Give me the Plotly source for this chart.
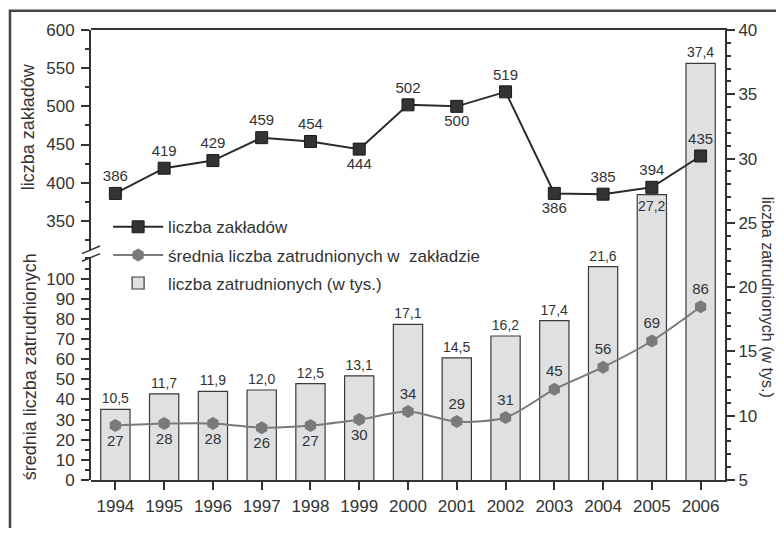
import plotly.graph_objects as go

years = [1994, 1995, 1996, 1997, 1998, 1999, 2000, 2001, 2002, 2003, 2004, 2005, 2006]
liczba_zakladow = [386, 419, 429, 459, 454, 444, 502, 500, 519, 386, 385, 394, 435]
srednia_zatr = [27, 28, 28, 26, 27, 30, 34, 29, 31, 45, 56, 69, 86]
liczba_zatr_tys = [10.5, 11.7, 11.9, 12.0, 12.5, 13.1, 17.1, 14.5, 16.2, 17.4, 21.6, 27.2, 37.4]

pos_zakl = ["top center", "top center", "top center", "top center", "top center", "bottom center",
            "top center", "bottom center", "top center", "bottom center", "top center", "top center", "top center"]
pos_sred = ["bottom center"] * 6 + ["top center"] * 7
pos_bar = ["outside"] * 11 + ["inside", "outside"]

TXT = "#333333"
FONT = "Liberation Sans, Arial, sans-serif"

fig = go.Figure()

fig.add_trace(go.Bar(
    x=years, y=liczba_zatr_tys, yaxis="y", name="liczba zatrudnionych (w tys.)",
    marker=dict(color="#dfe0e2", line=dict(color="#3a3a3a", width=1.2)),
    width=0.6, texttemplate="%{y:.1f}", textposition=pos_bar, insidetextanchor="end",
    textangle=0, constraintext="none", cliponaxis=False,
    textfont=dict(size=14, color=TXT), legendrank=3, legendgroup="c",
))

fig.add_trace(go.Scatter(
    x=years, y=liczba_zakladow, yaxis="y2", name="liczba zakładów",
    mode="lines+markers+text", text=[str(v) for v in liczba_zakladow], textposition=pos_zakl,
    line=dict(color="#2b2b2b", width=2),
    marker=dict(symbol="square", size=12, color="#333333", line=dict(color="#1a1a1a", width=1)),
    textfont=dict(size=15, color=TXT), legendrank=1, legendgroup="a",
))

fig.add_trace(go.Scatter(
    x=years, y=srednia_zatr, yaxis="y3", name="średnia liczba zatrudnionych w  zakładzie",
    mode="lines+markers+text", text=[str(v) for v in srednia_zatr], textposition=pos_sred,
    line=dict(color="#7a7a7a", width=2, shape="spline", smoothing=0.8),
    marker=dict(symbol="hexagon", size=13, color="#7a7a7a"),
    textfont=dict(size=15, color=TXT), legendrank=2, legendgroup="b",
))

axis_common = dict(showline=True, linecolor="#333333", linewidth=2, ticks="outside",
                   tickcolor="#333333", tickwidth=1.5, ticklen=8, showgrid=False, zeroline=False,
                   tickfont=dict(size=17, color=TXT, family=FONT))

fig.update_layout(
    width=768, height=520,
    margin=dict(l=83, r=51, t=22, b=31),
    paper_bgcolor="white", plot_bgcolor="rgba(0,0,0,0)",
    font=dict(family=FONT, color=TXT),
    separators=", ",
    showlegend=True,
    legend=dict(x=0.027, y=0.6017, xanchor="left", yanchor="top", bgcolor="rgba(0,0,0,0)",
                font=dict(size=17, color=TXT), tracegroupgap=3, traceorder="grouped",
                itemwidth=50),
    xaxis=dict(range=[1993.5, 2006.5], tickvals=years, mirror=True, ticklabelstandoff=2,
               **axis_common),
    yaxis=dict(side="right", range=[5, 40], tickvals=[5, 10, 15, 20, 25, 30, 35, 40],
               minor=dict(dtick=1, ticks="outside", ticklen=4, tickcolor="#333333"),
               anchor="x", ticklabelstandoff=0, **axis_common),
    yaxis2=dict(side="left", domain=[0.5096, 1], range=[311, 600],
                tickvals=[350, 400, 450, 500, 550, 600],
                minor=dict(tickvals=[325, 375, 425, 475, 525, 575], ticks="outside", ticklen=4, tickcolor="#333333"),
                anchor="x", ticklabelstandoff=3, **axis_common),
    yaxis3=dict(side="left", domain=[0, 0.4946], range=[0, 110.5],
                tickvals=list(range(0, 101, 10)),
                minor=dict(dtick=5, ticks="outside", ticklen=4, tickcolor="#333333"),
                anchor="x", ticklabelstandoff=3, **axis_common),
    shapes=[
        dict(type="rect", xref="paper", yref="paper", x0=-0.1278, x1=1.3, y0=-0.5, y1=1.0428,
             line=dict(color="#444444", width=2.5)),
        dict(type="line", xref="paper", yref="paper", x0=-0.0142, x1=0.0142, y0=0.503, y1=0.520,
             line=dict(color="#333333", width=1.5)),
        dict(type="line", xref="paper", yref="paper", x0=-0.0142, x1=0.0142, y0=0.486, y1=0.503,
             line=dict(color="#333333", width=1.5)),
    ],
    annotations=[
        dict(text="liczba zakładów", xref="paper", yref="paper", x=-0.0994, y=0.786,
             xanchor="center", yanchor="middle",
             textangle=-90, showarrow=False, font=dict(size=18, color=TXT)),
        dict(text="średnia liczba zatrudnionych", xref="paper", yref="paper", x=-0.0962, y=0.2505,
             xanchor="center", yanchor="middle",
             textangle=-90, showarrow=False, font=dict(size=18, color=TXT)),
        dict(text="liczba zatrudnionych (w tys.)", xref="paper", yref="paper", x=1.0662, y=0.405,
             xanchor="center", yanchor="middle",
             textangle=90, showarrow=False, font=dict(size=16, color=TXT)),
    ],
)

fig.write_html("out.html")
